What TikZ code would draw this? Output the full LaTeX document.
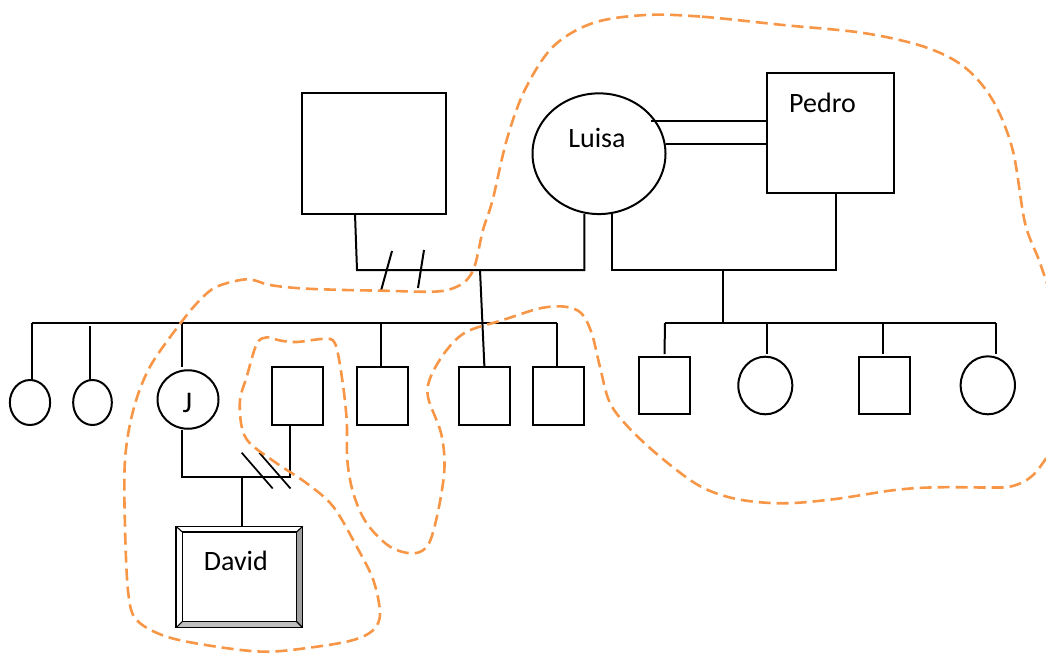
\documentclass[tikz,border=0pt]{standalone}
\usepackage{fontspec}
\setmainfont{Carlito}
\usetikzlibrary{shapes.geometric,calc}
\definecolor{curveorange}{RGB}{247,150,70}
\begin{document}
\begin{tikzpicture}[x=1pt,y=-1pt,
  line width=2pt,
  person/.style={draw=black,line width=2pt,inner sep=0pt,outer sep=0pt},
  male/.style={person,rectangle},
  female/.style={person,ellipse},
  conn/.style={draw=black,line width=2pt},
  namelabel/.style={anchor=base,inner sep=0pt,font=\fontsize{28}{32}\selectfont},
  groupline/.style={draw=curveorange,line width=2.6pt,dash pattern=on 12pt off 6pt}]
\useasboundingbox (0,0) rectangle (1046,656);

% ---------- generation I ----------
\node[male,minimum width=143.5,minimum height=121] (topbox) at (373.75,153.5) {};
\node[female,minimum width=133,minimum height=120.7] (luisa) at (599,153.7) {};
\node[male,minimum width=127.3,minimum height=120] (pedro) at (830.3,132.7) {};
\node[namelabel] (tluisa) at (597,147) {Luisa};
\node[namelabel] (tpedro) at (822.5,112) {Pedro};

% ---------- left sibship ----------
\node[female,minimum width=40.3,minimum height=45] (c1) at (30,402.5) {};
\node[female,minimum width=38.7,minimum height=45] (c2) at (92.5,402.5) {};
\node[female,minimum width=61,minimum height=58.5] (j) at (188,399.5) {};
\node[namelabel,font=\fontsize{30}{34}\selectfont] (tj) at (187.5,412.3) {J};
\node[male,minimum width=51,minimum height=58.2] (sp) at (297.2,396.1) {};
\node[male,minimum width=51,minimum height=58.2] (s3) at (382.7,396.1) {};
\node[male,minimum width=51.2,minimum height=58.3] (s4) at (484.4,396.1) {};
\node[male,minimum width=51.4,minimum height=58.3] (s5) at (558.5,396.1) {};

% ---------- right sibship ----------
\node[male,minimum width=51,minimum height=57.6] (r1) at (664.5,385.5) {};
\node[female,minimum width=54,minimum height=57.6] (r2) at (765.3,385.5) {};
\node[male,minimum width=51,minimum height=57.6] (r3) at (884.5,385.5) {};
\node[female,minimum width=54.3,minimum height=58] (r4) at (987.8,385.3) {};

% ---------- David ----------
\node[rectangle,inner sep=0pt,outer sep=0pt,minimum width=126.2,minimum height=101] (david) at (239.4,577) {};
\path (david.north west) coordinate (o1) (david.north east) coordinate (o2)
      (david.south east) coordinate (o3) (david.south west) coordinate (o4);
\path ([shift={(6,5.5)}]o1) coordinate (i1) ([shift={(-6,5.5)}]o2) coordinate (i2)
      ([shift={(-6,-6)}]o3) coordinate (i3) ([shift={(6,-6)}]o4) coordinate (i4);
\fill[gray!75] (o2)--(o3)--(i3)--(i2)--cycle;
\fill[gray!50] (o4)--(o3)--(i3)--(i4)--cycle;
\draw[line width=1.8pt,line join=miter] (o1)--(o2)--(o3)--(o4)--cycle;
\draw[line width=1.5pt] (i1)--(i2)--(i3)--(i4)--cycle;
\draw[line width=1.1pt] (o1)--(i1) (o2)--(i2) (o3)--(i3) (o4)--(i4);
\node[namelabel] (tdavid) at (235.8,570.7) {David};

% ---------- connectors: generation I ----------
\coordinate (m1) at (357,270);
\coordinate (m1r) at (584.3,270);
\coordinate (m2l) at (611.7,270);
\coordinate (m2r) at (836,270);
\draw[conn] ([xshift=-18.75pt]topbox.south) -- (m1) -- (m1r) -- ([xshift=-14.7pt]luisa.south);
\draw[conn] ([xshift=12.7pt]luisa.south) -- (m2l) -- (m2r) -- ([xshift=5.7pt]pedro.south);
% divorce marks
\coordinate (d1a) at (392,251); \coordinate (d1b) at (381,290.7);
\coordinate (d2a) at (424,250); \coordinate (d2b) at (418,288);
\draw[conn] (d1a) -- (d1b) (d2a) -- (d2b);
% consanguineous double line Luisa - Pedro
\draw[conn] (pedro.west |- 0,121) -- (650.7,121);
\draw[conn] (pedro.west |- 0,144) -- (665.7,144);

% ---------- left sibship line ----------
\coordinate (ls1) at (31.6,323.3);
\coordinate (ls2) at (556.7,323.3);
\draw[conn] (ls1) -- (ls2);
\draw[conn] (ls1) -- ([xshift=1.6pt]c1.north);
\draw[conn] (90.2,326) -- ([xshift=-2.3pt]c2.north);
\draw[conn] (181.9,323.3) -- ([xshift=-6.1pt,yshift=3pt]j.north);
\draw[conn] (380.5,323.3) -- ([xshift=-2.2pt]s3.north);
\draw[conn] (ls2) -- ([xshift=-1.8pt]s5.north);
\coordinate (top4) at (480,270);
\draw[conn] (top4) -- (s4.north);

% ---------- right sibship ----------
\coordinate (rc) at (723,270);
\coordinate (rs) at (723,323);
\draw[conn] (rc) -- (rs);
\coordinate (rs1) at (665,323); \coordinate (rs4) at (995.8,323);
\draw[conn] (rs1) -- (rs4);
\draw[conn] (rs1) -- ([yshift=2.5pt]r1.north);
\draw[conn] (766.7,323) -- ([xshift=1.4pt,yshift=2.5pt]r2.north);
\draw[conn] (882.7,323) -- ([xshift=-1.8pt,yshift=2.5pt]r3.north);
\draw[conn] (rs4) -- ([xshift=8pt,yshift=2.5pt]r4.north);

% ---------- J marriage ----------
\coordinate (jm1) at (181.9,477.3);
\coordinate (jm2) at (290,477.3);
\coordinate (jmc) at (241.9,477.3);
\draw[conn] ([xshift=-6.1pt,yshift=-1pt]j.south) -- (jm1) -- (jm2) -- ([xshift=-7.2pt]sp.south);
\draw[conn] (jmc) -- (david.north -| jmc);
\coordinate (e1a) at (241.7,452.7); \coordinate (e1b) at (272.7,488.5);
\coordinate (e2a) at (259.3,452.7); \coordinate (e2b) at (290.5,488.5);
\draw[conn,line width=1.7pt] (e1a) -- (e1b) (e2a) -- (e2b);

% ---------- orange dashed grouping curve ----------
\begin{scope}
\clip (0,0) rectangle (1046,656);
\draw[groupline] plot[smooth cycle,tension=0.55] coordinates {
 (645.8,15) (702,16.7) (783,25) (863.5,33) (924,46.7) (964,66.7) (992.6,100)
 (1012.7,150) (1025,223) (1040,263) (1054,310) (1060,380) (1054,440)
 (1040,467) (1026.7,480) (1010,486.7) (990,487.5) (936,487.3) (895,490)
 (833,499.3) (783,503.3) (738,499.3) (701,486.7) (664,460) (631,430)
 (610,403) (600,367) (591.7,333.3) (581.4,313.3) (565,306.7) (540,308.3)
 (503,320) (466.7,331.7) (446.7,350) (431,376) (428,397) (441,433)
 (444.5,466.7) (439,506.7) (429,543.3) (414,553.3) (390,546.7) (366.7,523.3)
 (353.3,493.3) (347.3,460) (346.7,420) (342,378) (335,343.3) (323.3,339)
 (296.7,342) (280,340.5) (266.7,337.3) (256.7,344) (246.7,376.7) (240,400)
 (241.7,426.7) (250,443.3) (276.7,463.3) (306.7,483.3) (333.3,506.7)
 (356.7,546.7) (373.3,580) (380,613.3) (373.3,630) (353.3,640) (316.7,646.7)
 (266.7,651.7) (216.7,646.7) (166.7,636.7) (136.7,620) (128.3,593.3)
 (125,526.7) (125,460) (133.3,410) (150,366.7) (181.7,321.7) (200,300)
 (216.7,286.7) (246.7,279.3) (270,285) (300,288.3) (345,290) (383,290.7)
 (433,291.7) (453,288.3) (466.7,280) (475,265) (483,230) (492.6,200)
 (506.7,140) (524.8,90) (553,46.7) (593,23)};
\end{scope}
\end{tikzpicture}
\end{document}
